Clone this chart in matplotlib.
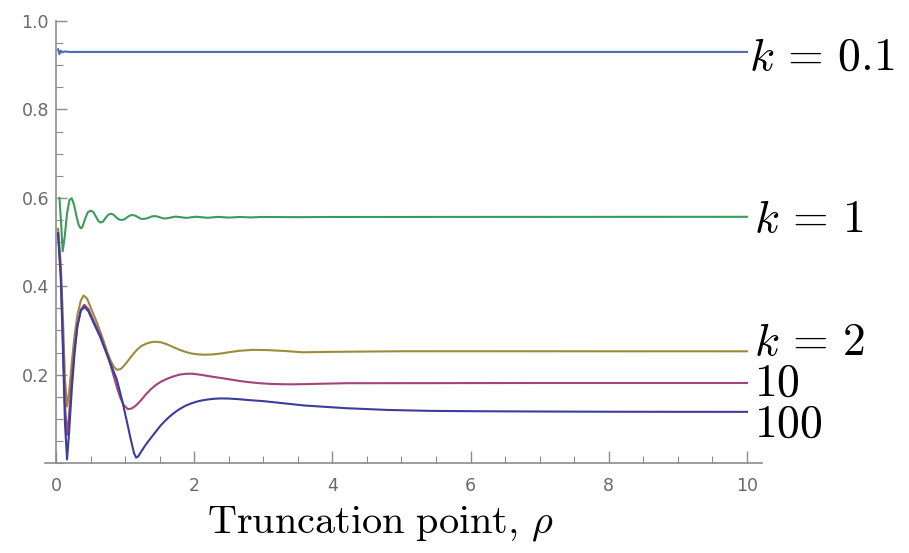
import matplotlib
matplotlib.use("Agg")
import matplotlib.pyplot as plt
from matplotlib.ticker import MultipleLocator, FixedLocator

plt.rcParams['mathtext.fontset'] = 'cm'

# values (x = truncation point, y = value)
x_k01 = [0.03, 0.05, 0.07, 0.09, 0.12, 0.2, 10]
y_k01 = [0.936, 0.925, 0.933, 0.929, 0.931, 0.930, 0.930]

x_k1 = [0.05, 0.075, 0.097, 0.125, 0.16, 0.195, 0.227, 0.26, 0.30, 0.33, 0.357, 0.38, 0.42,
        0.46, 0.50, 0.54, 0.58, 0.615, 0.647, 0.68, 0.72, 0.76, 0.796, 0.83, 0.87, 0.91,
        0.95, 0.99, 1.03, 1.07, 1.105, 1.14, 1.18, 1.22, 1.26, 1.30, 1.34, 1.38, 1.42, 1.46,
        1.50, 1.54, 1.58, 1.65, 1.73, 1.81, 1.89, 1.96, 2.04, 2.12, 2.2, 2.28, 2.35, 2.43,
        2.5, 2.66, 2.82, 2.97, 3.5, 4, 10]
y_k1 = [0.60, 0.54, 0.479, 0.51, 0.565, 0.595, 0.599, 0.585, 0.556, 0.538, 0.531, 0.533,
        0.552, 0.567, 0.571, 0.568, 0.557, 0.547, 0.544, 0.546, 0.555, 0.562, 0.564, 0.562,
        0.556, 0.551, 0.550, 0.551, 0.556, 0.560, 0.561, 0.560, 0.557, 0.553, 0.552, 0.553,
        0.555, 0.5575, 0.5586, 0.5580, 0.5560, 0.5540, 0.553, 0.555, 0.5575, 0.556, 0.5545,
        0.556, 0.5572, 0.5558, 0.5548, 0.556, 0.5568, 0.556, 0.5552, 0.5566, 0.5556, 0.5566,
        0.5562, 0.5566, 0.557]

x_k2 = [0.03, 0.07, 0.10, 0.13, 0.16, 0.19, 0.23, 0.27, 0.31, 0.36, 0.40, 0.45, 0.52, 0.6,
        0.68, 0.74, 0.79, 0.84, 0.88, 0.93, 0.98, 1.04, 1.1, 1.17, 1.24, 1.32, 1.4, 1.45,
        1.52, 1.6, 1.7, 1.79, 1.88, 1.97, 2.07, 2.16, 2.27, 2.4, 2.52, 2.65, 2.85, 3.05,
        3.3, 3.57, 4.0, 5, 10]
y_k2 = [0.53, 0.45, 0.33, 0.19, 0.128, 0.16, 0.23, 0.29, 0.335, 0.368, 0.379, 0.372, 0.345,
        0.315, 0.28, 0.252, 0.232, 0.217, 0.211, 0.212, 0.219, 0.231, 0.243, 0.256, 0.265,
        0.271, 0.274, 0.2742, 0.273, 0.269, 0.262, 0.256, 0.251, 0.2475, 0.2455, 0.245,
        0.2457, 0.248, 0.251, 0.2538, 0.256, 0.2555, 0.2535, 0.2505, 0.2515, 0.2528, 0.2527]

x_k10 = [0.03, 0.07, 0.10, 0.13, 0.16, 0.19, 0.23, 0.27, 0.31, 0.36, 0.41, 0.47, 0.55, 0.64,
         0.75, 0.82, 0.88, 0.93, 0.98, 1.04, 1.09, 1.15, 1.22, 1.3, 1.38, 1.45, 1.52, 1.6,
         1.7, 1.79, 1.88, 1.97, 2.1, 2.25, 2.4, 2.52, 2.66, 2.8, 2.95, 3.1, 3.25, 3.39, 3.6,
         3.8, 4.2, 5.4, 7, 10]
y_k10 = [0.52, 0.42, 0.28, 0.13, 0.064, 0.11, 0.19, 0.26, 0.31, 0.347, 0.358, 0.348, 0.32,
         0.29, 0.242, 0.205, 0.172, 0.148, 0.131, 0.122, 0.123, 0.129, 0.14, 0.155, 0.168,
         0.177, 0.184, 0.19, 0.196, 0.2, 0.2018, 0.202, 0.1995, 0.1955, 0.192, 0.189, 0.1855,
         0.1828, 0.1805, 0.179, 0.1783, 0.178, 0.1784, 0.1792, 0.1805, 0.1807, 0.181, 0.181]

x_k100 = [0.03, 0.07, 0.10, 0.13, 0.16, 0.19, 0.23, 0.27, 0.31, 0.36, 0.415, 0.47, 0.55, 0.64,
          0.75, 0.88, 0.96, 1.02, 1.08, 1.13, 1.16, 1.19, 1.23, 1.28, 1.33, 1.39, 1.45, 1.51,
          1.57, 1.63, 1.69, 1.75, 1.81, 1.88, 1.96, 2.04, 2.12, 2.2, 2.28, 2.38, 2.5, 2.65,
          2.8, 3.0, 3.3, 3.6, 3.9, 4.2, 4.8, 5.4, 6.0, 7, 8, 9, 10]
y_k100 = [0.52, 0.42, 0.26, 0.09, 0.008, 0.07, 0.17, 0.25, 0.31, 0.345, 0.353, 0.343, 0.315,
          0.285, 0.24, 0.189, 0.14, 0.098, 0.055, 0.022, 0.012, 0.015, 0.025, 0.037, 0.048,
          0.06, 0.072, 0.084, 0.094, 0.103, 0.111, 0.118, 0.124, 0.13, 0.135, 0.139, 0.1418,
          0.1438, 0.1452, 0.1461, 0.1458, 0.1443, 0.1422, 0.140, 0.135, 0.130, 0.127, 0.124,
          0.120, 0.118, 0.1172, 0.1165, 0.116, 0.1158, 0.1157]

series = [
    (x_k01, y_k01, '#4a6cb3'),
    (x_k1, y_k1, '#3b9c58'),
    (x_k2, y_k2, '#9c8c3a'),
    (x_k10, y_k10, '#a4427c'),
    (x_k100, y_k100, '#3c3c9c'),
]

# label text, x, baseline y
labels = [
    (r'$k\,=\,0.1$', 10.03, 0.889),
    (r'$k\,=\,1$', 10.10, 0.523),
    (r'$k\,=\,2$', 10.10, 0.245),
    (r'$10$', 10.10, 0.152),
    (r'$100$', 10.10, 0.060),
]

fig = plt.figure(figsize=(9.09, 5.53), dpi=100)
ax = fig.add_axes([45 / 909, 1 - 463 / 553, 717 / 909, 442 / 553])

for xs, ys, c in series:
    ax.plot(xs, ys, color=c, lw=1.5, solid_joinstyle='round')

for txt, lx, ly in labels:
    ax.text(lx, ly, txt, fontsize=33, va='baseline', ha='left', clip_on=False)

ax.set_xlim(-0.159, 10.217)
ax.set_ylim(0, 1.0)

axcol = '#8c8c8c'
for s in ['top', 'right']:
    ax.spines[s].set_visible(False)
ax.spines['left'].set_position(('data', 0))
ax.spines['left'].set_bounds(0, 1.0)
for s in ['left', 'bottom']:
    ax.spines[s].set_color(axcol)
    ax.spines[s].set_linewidth(1.2)

ax.xaxis.set_major_locator(FixedLocator([0, 2, 4, 6, 8, 10]))
ax.xaxis.set_minor_locator(MultipleLocator(0.5))
ax.yaxis.set_major_locator(FixedLocator([0.2, 0.4, 0.6, 0.8, 1.0]))
ax.yaxis.set_minor_locator(MultipleLocator(0.05))
ax.tick_params(axis='both', which='both', direction='in', color=axcol,
               labelcolor='#6a6a6a', labelsize=12.5)
ax.tick_params(axis='x', which='major', length=9, width=1.0, pad=10)
ax.tick_params(axis='x', which='minor', length=5, width=0.8)
ax.tick_params(axis='y', which='major', length=8, width=1.0, pad=5)
ax.tick_params(axis='y', which='minor', length=5, width=0.8)
ax.set_yticklabels(['0.2', '0.4', '0.6', '0.8', '1.0'])

fig.text(380 / 909, 1 - 533 / 553, r'$\mathrm{Truncation\ point,}\,\rho$',
         fontsize=29, ha='center', va='baseline')

fig.savefig('out.png', dpi=100)
